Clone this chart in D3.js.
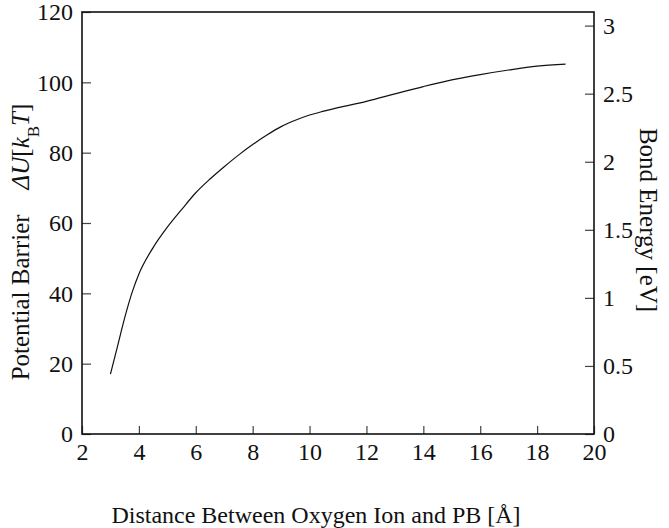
<!DOCTYPE html>
<html><head><meta charset="utf-8">
<script src="https://cdn.jsdelivr.net/npm/d3@7"></script>
<style>
body{margin:0;background:#fff;}
svg{display:block;font-family:"Liberation Serif","Times New Roman",serif;}
</style></head>
<body><svg id="c" width="669" height="528"></svg>
<script>
const distance = [3, 3.25, 3.5, 3.75, 4, 4.5, 5, 5.5, 6, 6.5, 7, 7.5, 8, 8.5, 9, 9.5, 10, 10.5, 11, 12, 13, 14, 15, 16, 17, 18, 19];
const barrier  = [17, 25, 33, 40, 45.5, 53, 58.8, 63.8, 68.6, 72.5, 76, 79.3, 82.3, 85, 87.4, 89.2, 90.7, 91.8, 92.8, 94.6, 96.7, 98.8, 100.7, 102.2, 103.5, 104.6, 105.2];
const xTicks = [2, 4, 6, 8, 10, 12, 14, 16, 18, 20];
const yLeftTicks = [0, 20, 40, 60, 80, 100, 120];
const yRightTicks = [0, 0.5, 1, 1.5, 2, 2.5, 3];

const m = {l:82, r:594, t:12, b:434};
const svg = d3.select("#c");
const x = d3.scaleLinear().domain([2,20]).range([m.l,m.r]);
const yL = d3.scaleLinear().domain([0,120]).range([m.b,m.t]);
const yR = d3.scaleLinear().domain([0,3.1]).range([m.b,m.t]);

const fs = 24;
function style(g){
  g.select(".domain").remove();
  g.selectAll(".tick line").attr("stroke","#444").attr("stroke-width",1.2);
  g.selectAll(".tick text").attr("fill","#111").style("font-size",fs+"px").style("font-family","Liberation Serif, serif");
}
svg.append("g").attr("transform",`translate(${m.l},0)`)
  .call(d3.axisLeft(yL).tickValues(yLeftTicks).tickSize(-9).tickPadding(9).tickFormat(d3.format("d")))
  .call(style);
svg.append("g").attr("transform",`translate(${m.r},0)`)
  .call(d3.axisRight(yR).tickValues(yRightTicks).tickSize(-9).tickPadding(9).tickFormat(d=>String(d)))
  .call(style);
svg.append("g").attr("transform",`translate(0,${m.b})`)
  .call(d3.axisBottom(x).tickValues(xTicks).tickSize(-8).tickPadding(9).tickFormat(d3.format("d")))
  .call(style);

svg.append("rect").attr("x",m.l).attr("y",m.t).attr("width",m.r-m.l).attr("height",m.b-m.t)
  .attr("fill","none").attr("stroke","#111").attr("stroke-width",1.6);

const data = distance.map((d,i)=>[d,barrier[i]]);
svg.append("path").datum(data)
  .attr("fill","none").attr("stroke","#111").attr("stroke-width",1.2)
  .attr("d", d3.line().x(d=>x(d[0])).y(d=>yL(d[1])).curve(d3.curveMonotoneX));

// x label
svg.append("text").attr("x",316).attr("y",523).attr("text-anchor","middle")
  .style("font-size","24px").attr("fill","#111").text("Distance Between Oxygen Ion and PB [Å]");

// left label
const ll = svg.append("text").attr("transform",`translate(29,242) rotate(-90)`).attr("text-anchor","middle")
  .style("font-size","25px").attr("fill","#111");
ll.append("tspan").text("Potential Barrier\u2002\u2002");
ll.append("tspan").style("font-style","italic").text("ΔU");
ll.append("tspan").text("[");
ll.append("tspan").style("font-style","italic").text("k");
ll.append("tspan").attr("baseline-shift","sub").style("font-size","17px").text("B");
ll.append("tspan").style("font-style","italic").text("T");
ll.append("tspan").text("]");

// right label
svg.append("text").attr("transform",`translate(640,220) rotate(90)`).attr("text-anchor","middle")
  .style("font-size","25px").attr("fill","#111").text("Bond Energy [eV]");
</script></body></html>
